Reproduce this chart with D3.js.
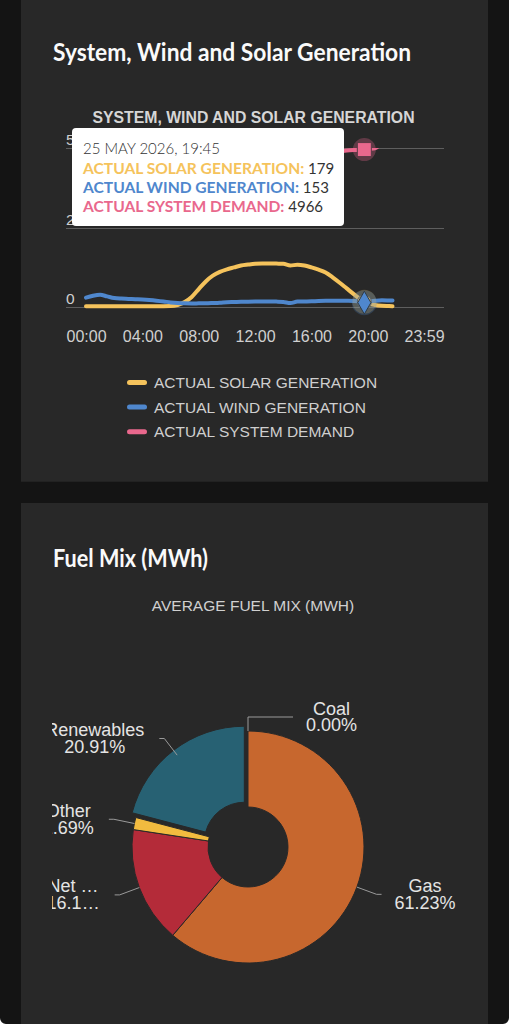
<!DOCTYPE html>
<html><head><meta charset="utf-8">
<script src="https://cdn.jsdelivr.net/npm/d3@7"></script>
<style>
html,body{margin:0;padding:0;background:#141414;}
svg{display:block}
</style></head><body>
<svg id="c" width="509" height="1024"></svg>
<script>
// ---------- data ----------
const times = ["00:00","00:30","01:00","01:30","02:00","02:30","03:00","03:30","04:00","04:30","05:00","05:30","06:00","06:30","07:00","07:30","08:00","08:30","09:00","09:30","10:00","10:30","11:00","11:30","12:00","12:30","13:00","13:30","14:00","14:30","15:00","15:30","16:00","16:30","17:00","17:30","18:00","18:30","19:00","19:30","19:45","20:00","20:30","21:00","21:30","21:45"];
const solar = [40,40,40,40,40,40,40,40,40,40,40,40,45,80,170,330,580,820,1000,1120,1200,1260,1320,1350,1375,1385,1385,1380,1375,1320,1345,1320,1260,1190,1100,950,780,600,420,250,179,130,80,55,45,40];
const wind = [310,370,400,350,300,280,270,260,250,235,215,190,160,140,130,128,130,132,140,150,165,172,180,183,185,188,190,185,175,140,185,190,195,205,210,212,215,212,205,180,153,185,210,225,222,220];
const demand = [3900,3750,3600,3480,3400,3350,3320,3300,3310,3330,3380,3450,3550,3700,3900,4100,4300,4450,4550,4600,4620,4630,4640,4650,4660,4650,4630,4600,4580,4570,4580,4600,4650,4720,4800,4870,4910,4935,4950,4960,4966,4985,5010,5150,5220,5200];
const seriesNames = ["ACTUAL SOLAR GENERATION","ACTUAL WIND GENERATION","ACTUAL SYSTEM DEMAND"];
const seriesColors = ["#f5c35c","#4f87cd","#e9688d"];
const yTicks = [0, 2500, 5000];
const xTickLabels = ["00:00","04:00","08:00","12:00","16:00","20:00","23:59"];
const tooltipDate = "25 MAY 2026";
const tooltipTime = "19:45";

const fuelNames = ["Gas","Net imports","Other","Renewables","Coal"];
const fuelShares = [61.23, 16.17, 1.69, 20.91, 0.00];
const fuelColors = ["#c7672e","#b42b39","#f2bb3f","#276173","#6d6d6d"];
const slicedFuel = "Renewables";
const truncatedFuel = ["Net imports"];

// ---------- helpers ----------
const toMin = s => { const [h,m] = s.split(":").map(Number); return h*60+m; };
const svg = d3.select("#c");
const CARD = "#282828";

// backgrounds
svg.append("rect").attr("x",0).attr("y",0).attr("width",509).attr("height",1024).attr("fill","#141414");
svg.append("rect").attr("x",21).attr("y",-10).attr("width",467).attr("height",491.7).attr("fill",CARD);
svg.append("rect").attr("x",21).attr("y",503).attr("width",467).attr("height",540).attr("fill",CARD);
// rounded screen corners at the bottom
svg.append("path").attr("d","M0,1018V1024H6A6,6 0 0 1 0,1018Z M509,1018V1024H503A6,6 0 0 0 509,1018Z").attr("fill","#ffffff");

// card titles
svg.append("text").attr("x",53).attr("y",60.5).text("System, Wind and Solar Generation")
  .attr("font-family","Lato, 'Open Sans', sans-serif").attr("font-weight",700).attr("font-size",25)
  .attr("fill","#fafafa").attr("textLength",358).attr("lengthAdjust","spacingAndGlyphs");
svg.append("text").attr("x",53).attr("y",566.5).text("Fuel Mix (MWh)")
  .attr("font-family","Lato, 'Open Sans', sans-serif").attr("font-weight",700).attr("font-size",25)
  .attr("fill","#fafafa").attr("textLength",155).attr("lengthAdjust","spacingAndGlyphs");

// ---------- line chart ----------
const SANS = "'Liberation Sans', Arial, Helvetica, sans-serif";
svg.append("text").attr("x",253.5).attr("y",122.7).attr("text-anchor","middle")
  .attr("font-family",SANS).attr("font-weight",700).attr("font-size",15.8).attr("fill","#d6d6d6")
  .text("SYSTEM, WIND AND SOLAR GENERATION");

const x = d3.scaleLinear().domain([0, 1439]).range([86, 424]);
const y = d3.scaleLinear().domain([0, 5000]).range([307.5, 148.5]);

const grid = svg.append("g");
yTicks.forEach(t => {
  const yy = Math.floor(y(t)) + 0.5;
  grid.append("line").attr("x1",66).attr("x2",444).attr("y1",yy).attr("y2",yy)
    .attr("stroke","#5e5e5e").attr("stroke-width",1);
  grid.append("text").attr("x",66).attr("y",yy-4).attr("font-family",SANS).attr("font-size",15.5)
    .attr("fill","#d0d0d0").text(String(t));
});

const xTickVals = xTickLabels.map(toMin);
const xAxis = d3.axisBottom(x).tickValues(xTickVals).tickFormat((d,i)=>xTickLabels[i]).tickSize(0).tickPadding(0);
const xg = svg.append("g").attr("transform","translate(0,328)").call(xAxis);
xg.select(".domain").remove();
xg.selectAll("text").attr("font-family",SANS).attr("font-size",16).attr("fill","#d0d0d0").attr("dy","0.85em");

svg.append("clipPath").attr("id","plotclip").append("rect").attr("x",66).attr("y",148).attr("width",378).attr("height",170);
const plot = svg.append("g").attr("clip-path","url(#plotclip)");
const seriesData = [solar, wind, demand];
const line = d3.line().x((d,i)=>x(toMin(times[i]))).y(d=>y(d)).curve(d3.curveMonotoneX);
[0,1,2].forEach(k => {
  plot.append("path").attr("d", line(seriesData[k])).attr("fill","none")
    .attr("stroke",seriesColors[k]).attr("stroke-width",4).attr("stroke-linejoin","round").attr("stroke-linecap","round");
});

// hover markers at tooltip time
const ti = times.indexOf(tooltipTime);
const mx = x(toMin(tooltipTime));
const mk = svg.append("g");
mk.append("circle").attr("cx",mx).attr("cy",y(solar[ti])).attr("r",12).attr("fill",seriesColors[0]).attr("opacity",0.25);
mk.append("circle").attr("cx",mx).attr("cy",y(solar[ti])).attr("r",7).attr("fill",seriesColors[0]).attr("stroke","#555").attr("stroke-width",1);
mk.append("circle").attr("cx",mx).attr("cy",y(wind[ti])).attr("r",12.5).attr("fill",seriesColors[1]).attr("opacity",0.25);
mk.append("path").attr("d",d3.symbol(d3.symbolDiamond,150)()).attr("transform",`translate(${mx},${y(wind[ti])})`)
  .attr("fill",seriesColors[1]).attr("stroke","#2f3a44").attr("stroke-width",1);
mk.append("circle").attr("cx",mx).attr("cy",y(demand[ti])).attr("r",11.5).attr("fill",seriesColors[2]).attr("opacity",0.3);
mk.append("rect").attr("x",mx-7).attr("y",y(demand[ti])-7).attr("width",14).attr("height",14)
  .attr("fill",seriesColors[2]).attr("stroke","#5a3a45").attr("stroke-width",1);

// legend
const lg = svg.append("g");
seriesNames.forEach((n,i) => {
  const cy = 382.5 + i*24.6;
  lg.append("rect").attr("x",127).attr("y",cy-2.5).attr("width",20).attr("height",5).attr("rx",2.5).attr("fill",seriesColors[i]);
  lg.append("text").attr("x",154).attr("y",cy+5.5).attr("font-family",SANS).attr("font-size",15.5).attr("fill","#cfcfcf").text(n);
});

// tooltip
const tt = svg.append("g");
tt.append("rect").attr("x",72).attr("y",128).attr("width",272).attr("height",98).attr("rx",4).attr("fill","#ffffff");
const TF = "Lato, 'Open Sans', sans-serif";
tt.append("text").attr("x",83).attr("y",154.3).attr("font-family",TF).attr("font-size",15).attr("font-weight",300)
  .attr("fill","#333").text(`${tooltipDate}, ${tooltipTime}`);
seriesNames.forEach((n,i) => {
  const t = tt.append("text").attr("x",83).attr("y",173.5 + i*19.3).attr("font-family",TF).attr("font-size",15.6);
  t.append("tspan").attr("font-weight",700).attr("fill",seriesColors[i]).text(n + ":");
  t.append("tspan").attr("fill","#333").attr("font-size",15).text(" " + seriesData[i][ti]);
});

// ---------- pie chart ----------
svg.append("text").attr("x",253).attr("y",611).attr("text-anchor","middle")
  .attr("font-family",SANS).attr("font-size",15.5).attr("fill","#d0d0d0").text("AVERAGE FUEL MIX (MWH)");

const cx = 248, cy = 847, R = 116, RI = 40;
const fuel = fuelNames.map((n,i)=>({name:n, v:fuelShares[i], color:fuelColors[i]}));
const pie = d3.pie().sort(null).value(d=>d.v).startAngle(0).endAngle(2*Math.PI);
const arcs = pie(fuel);
const arc = d3.arc().innerRadius(RI).outerRadius(R);
const pg = svg.append("g").attr("transform",`translate(${cx},${cy})`);
arcs.forEach(a => {
  const mid = (a.startAngle + a.endAngle)/2;
  const off = a.data.name === slicedFuel ? 6 : 0;
  pg.append("path").attr("d",arc(a)).attr("fill",a.data.color)
    .attr("stroke",CARD).attr("stroke-width",a.endAngle>a.startAngle?1:0)
    .attr("transform",`translate(${off*Math.sin(mid)},${-off*Math.cos(mid)})`);
});

svg.append("clipPath").attr("id","pieclip").append("rect").attr("x",52).attr("y",610).attr("width",405).attr("height",414);
const lblG = svg.append("g").attr("clip-path","url(#pieclip)");
const labelTop = 717;
function ellipsize(el, str, maxW) {
  el.text(str);
  if (el.node().getComputedTextLength() <= maxW) return;
  let s = str;
  while (s.length > 1) {
    s = s.slice(0, -1);
    el.text(s + "…");
    if (el.node().getComputedTextLength() <= maxW) return;
  }
}
arcs.forEach(a => {
  const mid = ((a.startAngle + a.endAngle)/2) % (2*Math.PI);
  const dx = Math.sin(mid), dy = -Math.cos(mid);
  const right = mid < Math.PI;
  const p0 = [cx + R*dx, cy + R*dy];
  let e = [cx + (R+21)*dx, cy + (R+21)*dy];
  let clamped = false;
  if (e[1] < labelTop) { e = [cx + R*dx, labelTop]; clamped = true; }
  const crook = clamped ? 45 : 5;
  const endX = e[0] + (right ? crook : -crook);
  lblG.append("path").attr("d",`M${p0[0]},${p0[1]}L${e[0]},${e[1]}L${endX},${e[1]}`)
    .attr("fill","none").attr("stroke","#9a9a9a").attr("stroke-width",1);
  const edge = endX + (right ? 13 : -15);
  const lines = [a.data.name, d3.format(".2f")(a.data.v) + "%"];
  const els = lines.map((s,j) => {
    const t = lblG.append("text").attr("y", e[1] - 2.5 + j*16.8).attr("text-anchor","middle")
      .attr("font-family",SANS).attr("font-size",18).attr("fill","#e4e4e4");
    if (truncatedFuel.includes(a.data.name)) ellipsize(t, s, 54); else t.text(s);
    return t;
  });
  const w = d3.max(els, t => t.node().getComputedTextLength());
  const center = right ? edge + w/2 : edge - w/2;
  els.forEach(t => t.attr("x", center));
});
</script>
</body></html>
